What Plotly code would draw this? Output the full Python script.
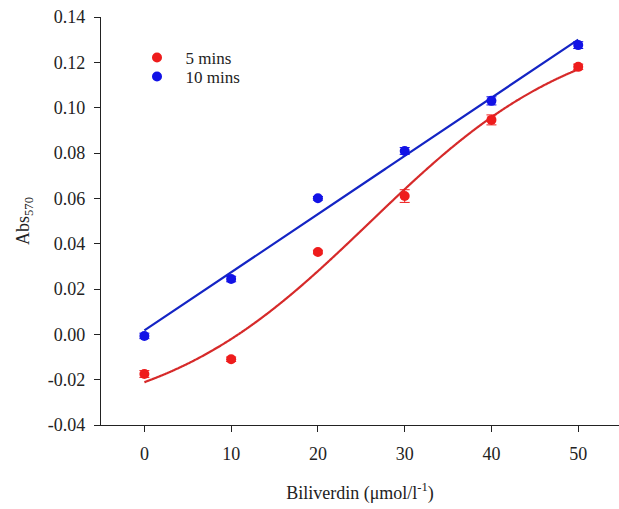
import numpy as np
import plotly.graph_objects as go

conc = [0, 10, 20, 30, 40, 50]
abs_5min = [-0.0175, -0.011, 0.0363, 0.061, 0.0946, 0.118]
err_5min = [0.0015, 0.001, 0.0008, 0.0028, 0.0022, 0.0012]
abs_10min = [-0.0007, 0.0244, 0.060, 0.0809, 0.103, 0.1276]
err_10min = [0.0012, 0.0012, 0.0008, 0.0015, 0.0018, 0.0015]
x_ticks = [0, 10, 20, 30, 40, 50]
y_ticks = [-0.04, -0.02, 0.0, 0.02, 0.04, 0.06, 0.08, 0.10, 0.12, 0.14]
y_ticktext = ["-0.04", "-0.02", "0.00", "0.02", "0.04", "0.06", "0.08", "0.10", "0.12", "0.14"]

x = np.array(conc, float)
y5 = np.array(abs_5min, float)
y10 = np.array(abs_10min, float)

# linear regression for 10 mins
slope, icpt = np.polyfit(x, y10, 1)
xf = np.linspace(0, 50, 500)
fit10 = slope * xf + icpt


# 4-parameter sigmoid fit for 5 mins (simple Levenberg-Marquardt)
def sig(p, xx):
    y0, a, x0, b = p
    return y0 + a / (1 + np.exp(-(xx - x0) / b))


p = np.array([-0.02, 0.16, 27.0, 9.0])
lam = 1e-3
for _ in range(500):
    r = y5 - sig(p, x)
    J = np.zeros((len(x), 4))
    for k in range(4):
        dp = np.zeros(4)
        dp[k] = 1e-6 * max(1.0, abs(p[k]))
        J[:, k] = (sig(p + dp, x) - sig(p, x)) / dp[k]
    A = J.T @ J
    g = J.T @ r
    step = np.linalg.solve(A + lam * np.diag(np.diag(A) + 1e-12), g)
    pn = p + step
    if np.sum((y5 - sig(pn, x)) ** 2) < np.sum(r ** 2):
        p = pn
        lam *= 0.5
    else:
        lam *= 4
fit5 = sig(p, xf)

RED = "#ee1c1c"
BLUE = "#1212e6"

fig = go.Figure()
fig.add_trace(go.Scatter(x=xf, y=fit5, mode="lines", line=dict(color="#d62a2a", width=2.2, shape="spline"),
                         showlegend=False, hoverinfo="skip"))
fig.add_trace(go.Scatter(x=xf, y=fit10, mode="lines", line=dict(color="#1424c4", width=2.2),
                         showlegend=False, hoverinfo="skip"))
fig.add_trace(go.Scatter(x=conc, y=abs_5min, mode="markers", name="\u00a0\u00a05 mins",
                         marker=dict(color=RED, size=10), legend="legend",
                         error_y=dict(type="data", array=err_5min, color=RED, thickness=1, width=5)))
fig.add_trace(go.Scatter(x=conc, y=abs_10min, mode="markers", name="\u00a0\u00a010 mins",
                         marker=dict(color=BLUE, size=10), legend="legend2",
                         error_y=dict(type="data", array=err_10min, color=BLUE, thickness=1, width=5)))

font = dict(family="Liberation Serif, Times New Roman, serif", size=18, color="#222")
leg_common = dict(x=0.0695, xanchor="left", yanchor="top", bgcolor="rgba(0,0,0,0)",
                  font=dict(size=17), itemwidth=30)
fig.update_layout(
    width=619, height=509,
    margin=dict(l=101, r=0, t=17, b=84),
    paper_bgcolor="white", plot_bgcolor="white",
    font=font,
    showlegend=True,
    legend=dict(y=0.9436, **leg_common),
    legend2=dict(y=0.897, **leg_common),
)
fig.update_xaxes(range=[-5, 54.7], tickvals=x_ticks, showline=True, linecolor="#222", linewidth=1.2,
                 ticks="outside", ticklen=6, tickcolor="#222", showgrid=False, zeroline=False,
                 ticklabelstandoff=6, tickfont=dict(size=18),
                 title=dict(text="Biliverdin (μmol/l<sup>-1</sup>)", standoff=23, font=dict(size=18)))
fig.update_yaxes(range=[-0.04, 0.14], tickvals=y_ticks, ticktext=y_ticktext, showline=True, linecolor="#222",
                 linewidth=1.2, ticks="outside", ticklen=6, tickcolor="#222", showgrid=False, zeroline=False,
                 ticklabelstandoff=5, tickfont=dict(size=18),
                 title=dict(text="Abs<sub>570</sub>", standoff=13, font=dict(size=18)))

fig.write_html("out.html")
